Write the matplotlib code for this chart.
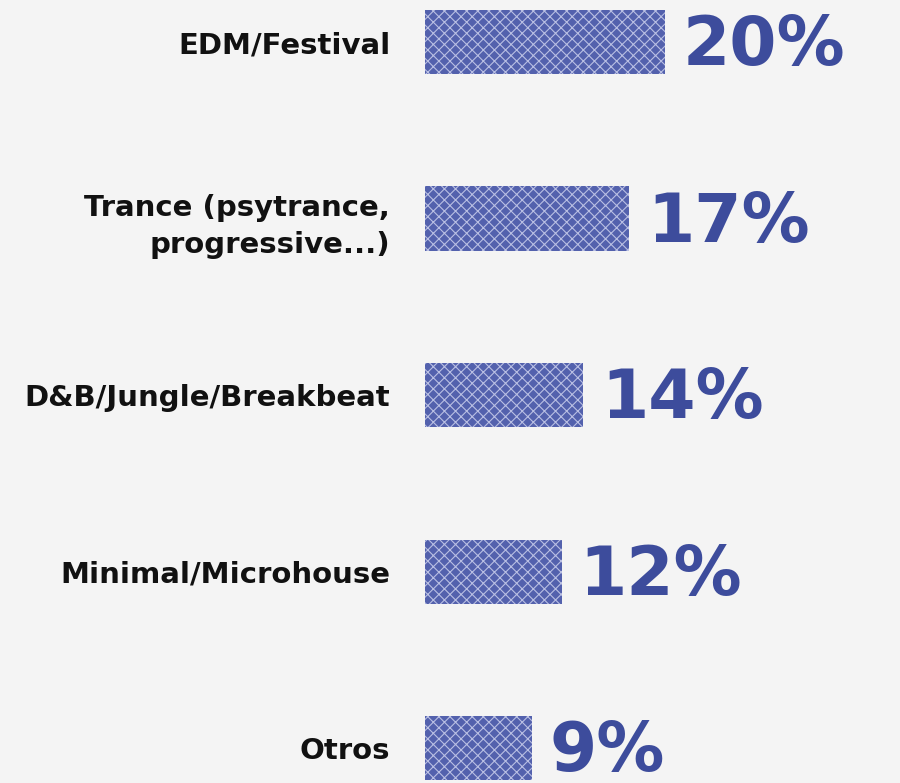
import numpy as np
import matplotlib
matplotlib.use('Agg')
import matplotlib.pyplot as plt

# data
categories = ['EDM/Festival', 'Trance (psytrance,\nprogressive...)', 'D&B/Jungle/Breakbeat',
              'Minimal/Microhouse', 'Otros']
bar_values = [20.0, 17.0, 13.2, 11.4, 8.9]
pct_labels = ['20%', '17%', '14%', '12%', '9%']

bg = '#f4f4f4'
blue = '#3d4c9c'

plt.rcParams['hatch.linewidth'] = 0.8

fig = plt.figure(figsize=(9, 7.83), dpi=100, facecolor=bg)
ax = fig.add_axes([425 / 900, 0, 475 / 900, 1])
ax.set_facecolor(bg)

y = np.arange(len(categories))
ax.barh(y, bar_values, height=0.363, color='#5361ad', edgecolor='#b9bfe3',
        hatch='xxx', linewidth=0)

for yi, v, lab in zip(y, bar_values, pct_labels):
    ax.annotate(lab, (v, yi), xytext=(18, -4), textcoords='offset pixels',
                ha='left', va='center', fontsize=49, fontweight='heavy',
                family='DejaVu Sans', color=blue)

ax.set_xlim(0, 475 / 12)
ax.set_ylim(4.198, -0.238)
ax.set_yticks(y, categories, fontsize=21, fontweight='bold',
              family='DejaVu Sans', linespacing=1.45, color='#111111')
ax.tick_params(axis='y', length=0, pad=25)
ax.set_xticks([])
for s in ax.spines.values():
    s.set_visible(False)

fig.savefig('out.png', dpi=100, facecolor=bg)
